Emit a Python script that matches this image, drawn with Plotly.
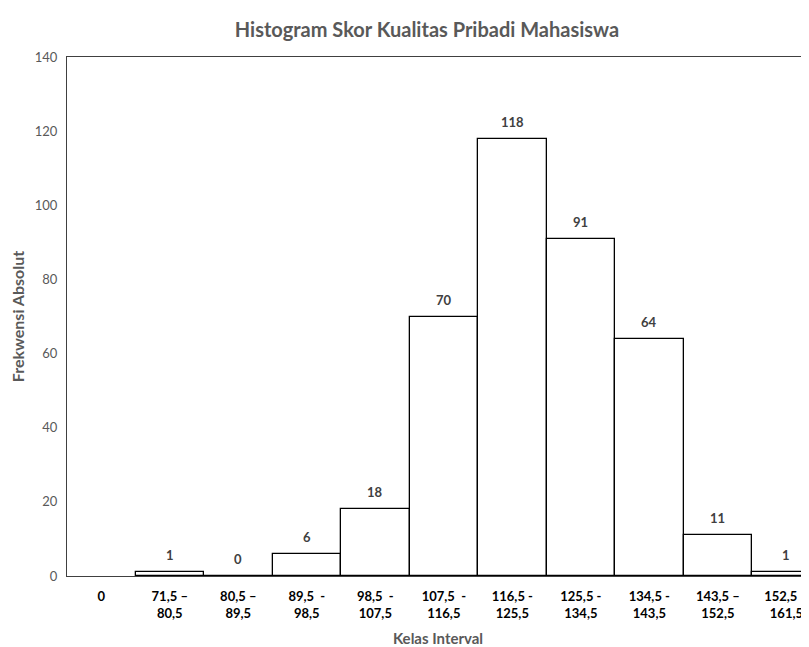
import plotly.graph_objects as go

categories = ["0", "71,5 –<br>80,5", "80,5 –<br>89,5", "89,5  -<br>98,5", "98,5  -<br>107,5",
              "107,5  -<br>116,5", "116,5 -<br>125,5", "125,5 -<br>134,5", "134,5 -<br>143,5",
              "143,5 –<br>152,5", "152,5  -<br>161,5"]
frequencies = [None, 1, 0, 6, 18, 70, 118, 91, 64, 11, 1]
y_ticks = [0, 20, 40, 60, 80, 100, 120, 140]

FONT = "Lato"
GREY = "#595959"

fig = go.Figure()
fig.add_trace(go.Bar(
    x=list(range(len(categories))), y=frequencies,
    marker=dict(color="white", line=dict(color="black", width=1.3)),
    hoverinfo="skip",
))

for i, v in enumerate(frequencies):
    if v is None:
        continue
    fig.add_annotation(x=i, y=v, text=f"<b>{v}</b>", showarrow=False,
                       yshift=17, font=dict(family=FONT, size=13, color="#404040"))

# page body has an 8px margin, so the figure is sized/offset to compensate
fig.update_layout(
    width=801, height=639,
    paper_bgcolor="white", plot_bgcolor="white",
    margin=dict(l=59, r=0, t=49, b=71),
    bargap=0,
    showlegend=False,
    title=dict(text="<b>Histogram Skor Kualitas Pribadi Mahasiswa</b>",
               x=(427 - 8) / 801, xanchor="center", y=1 - 22 / 639, yanchor="middle",
               font=dict(family=FONT, size=20, color=GREY)),
    font=dict(family=FONT),
)
fig.update_xaxes(
    tickmode="array", tickvals=list(range(len(categories))),
    ticktext=[f"<b>{c}</b>" for c in categories],
    range=[-0.5, 10.33],
    tickfont=dict(family=FONT, size=13, color="black"),
    showline=True, linecolor="#404040", linewidth=1, mirror=True,
    showgrid=False, ticks="", zeroline=False,
    ticklabelstandoff=8,
    title=dict(text="<b>Kelas Interval</b>", font=dict(family=FONT, size=15, color=GREY), standoff=13),
)
fig.update_yaxes(
    range=[0, 140], tickvals=y_ticks,
    tickfont=dict(family=FONT, size=13, color=GREY),
    showline=True, linecolor="#404040", linewidth=1,
    showgrid=False, ticks="", zeroline=False,
    ticklabelstandoff=6,
    title=dict(text="<b>Frekwensi Absolut</b>", font=dict(family=FONT, size=16, color=GREY), standoff=11),
)

fig.write_html("out.html")
